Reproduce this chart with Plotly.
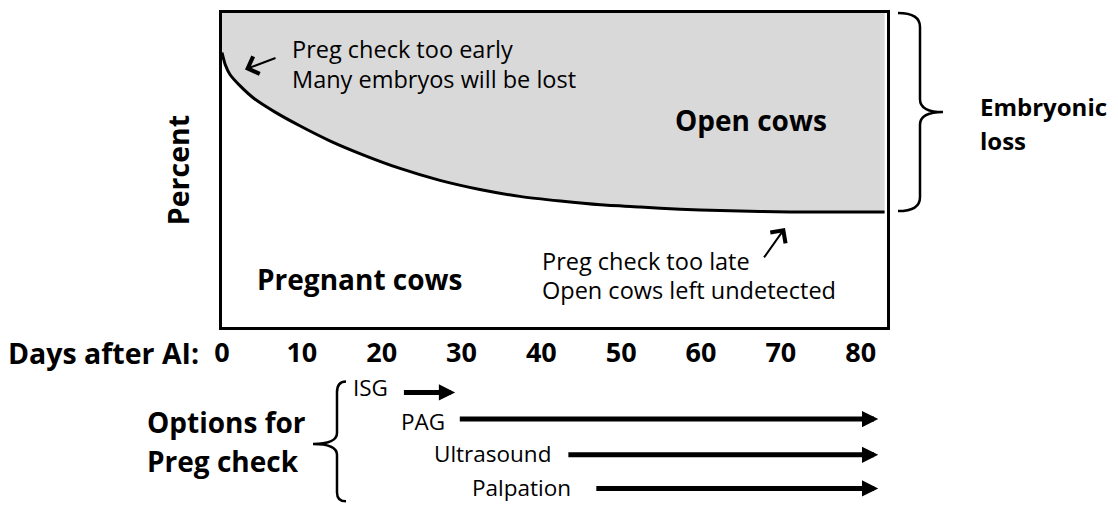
import plotly.graph_objects as go

# ---------------- data ----------------
curve_days = [0, 0.4, 1.0, 2.3, 4.1, 6.6, 9.8, 13.5, 17.9, 22.3, 27.3, 32.3,
              37.3, 42.4, 47.4, 52.4, 57.4, 62.4, 67.4, 71.2, 83.0]
curve_pct = [87.4, 83.6, 80.4, 76.7, 72.6, 68.5, 64.0, 59.3, 54.6, 50.5, 46.7, 43.8,
             41.6, 40.1, 38.9, 38.2, 37.5, 37.1, 36.8, 36.6, 36.6]
top_pct = [100] * len(curve_days)

tick_days = [0, 10, 20, 30, 40, 50, 60, 70, 80]
tick_labels = [str(d) for d in tick_days]

option_names = ["ISG", "PAG", "Ultrasound", "Palpation"]
option_start = [22.6, 29.6, 43.2, 46.7]
option_end = [29.2, 82.2, 82.2, 82.2]

# ---------------- layout helpers ----------------
# the page body has an 8px margin, so the figure is 8px smaller and all
# reference pixel positions are expressed relative to the plot box
OFF = 8
W, H = 1118 - OFF, 505 - OFF
L, R, T, B = 222, 887, 10, 327          # plot box in reference pixels
X_MAX = 83.3

def px(x):
    return (x - L) / (R - L)

def py(y):
    return (B - y) / (B - T)

FONT = "Open Sans"
BIG = 27
SMALL = 23.5
OPT = 22.5

fig = go.Figure()
fig.add_trace(go.Scatter(x=curve_days, y=top_pct, mode="lines",
                         line=dict(width=0, color="rgba(0,0,0,0)"),
                         hoverinfo="skip", showlegend=False))
fig.add_trace(go.Scatter(x=curve_days, y=curve_pct, mode="lines",
                         line=dict(color="black", width=3, shape="spline", smoothing=0.6),
                         fill="tonexty", fillcolor="#d9d9d9",
                         hoverinfo="skip", showlegend=False))

ann = []

def text(x, y, s, size, bold=False, xanchor="center", **kw):
    ann.append(dict(x=x, y=y, xref="paper", yref="paper", text=s, showarrow=False,
                    xanchor=xanchor, yanchor="middle",
                    font=dict(family=FONT, size=size, color="black",
                              weight="bold" if bold else "normal"), **kw))

text(px(6), py(353), "Days after AI:", 28.5, True, "left")
text(px(751), py(118), "Open cows", BIG + 1, True)
text(px(359), py(279), "Pregnant cows", BIG + 1, True)
text(px(290), py(46), "Preg check too early", SMALL, False, "left")
text(px(290), py(77), "Many embryos will be lost", SMALL, False, "left")
text(px(540), py(260), "Preg check too late", SMALL, False, "left")
text(px(540), py(290), "Open cows left undetected", SMALL, False, "left")
text(px(978), py(104), "Embryonic", 24, True, "left")
text(px(978), py(139), "loss", 24, True, "left")
text(px(145), py(423), "Options for", BIG + 1, True, "left")
text(px(145), py(462), "Preg check", BIG + 1, True, "left")

# small pointer arrows
ann.append(dict(x=px(245), y=py(67), xref="paper", yref="paper", text="",
                showarrow=True, ax=32, ay=-12, arrowhead=4, arrowwidth=2,
                arrowsize=1.8, arrowcolor="black"))
ann.append(dict(x=px(785), y=py(227), xref="paper", yref="paper", text="",
                showarrow=True, ax=-22, ay=31, arrowhead=4, arrowwidth=2,
                arrowsize=1.8, arrowcolor="black"))

# options arrows
label_y = [388, 422, 455, 489]
arrow_y = [393, 420, 456, 490]
label_gap = [12, 11, 14, 22]
for i, name in enumerate(option_names):
    ann.append(dict(x=option_start[i], y=py(label_y[i]), xref="x", yref="paper",
                    text=name, showarrow=False, xanchor="right", yanchor="middle",
                    xshift=-label_gap[i],
                    font=dict(family=FONT, size=OPT, color="black")))
    ann.append(dict(x=option_end[i], y=py(arrow_y[i]), xref="x", yref="paper",
                    text="", showarrow=True, axref="x", ax=option_start[i],
                    ayref="pixel", ay=0, arrowhead=2, arrowwidth=5,
                    arrowsize=0.65, arrowcolor="black"))

def path(points_cmds):
    out = []
    for cmd, pts in points_cmds:
        coords = " ".join(f"{px(a):.5f},{py(b):.5f}" for a, b in pts)
        out.append(f"{cmd}{coords}")
    return " ".join(out)

right_brace = path([
    ("M", [(898, 10)]), ("Q", [(920, 10), (920, 24)]), ("L", [(920, 97)]),
    ("Q", [(920, 110), (943, 110)]), ("Q", [(920, 110), (920, 123)]),
    ("L", [(920, 196)]), ("Q", [(920, 210), (898, 210)]),
])
left_brace = path([
    ("M", [(346, 382)]), ("Q", [(337, 382), (337, 393)]), ("L", [(337, 434)]),
    ("Q", [(337, 445), (313, 445)]), ("Q", [(337, 445), (337, 456)]),
    ("L", [(337, 494)]), ("Q", [(337, 503), (346, 503)]),
])
shapes = [
    dict(type="path", path=right_brace, xref="paper", yref="paper",
         line=dict(color="black", width=2.5)),
    dict(type="path", path=left_brace, xref="paper", yref="paper",
         line=dict(color="black", width=2.5)),
]

fig.update_layout(
    width=W, height=H,
    margin=dict(l=L - OFF, r=(1118 - R), t=T - OFF, b=(505 - B), pad=0),
    paper_bgcolor="white", plot_bgcolor="white",
    showlegend=False,
    annotations=ann, shapes=shapes,
    xaxis=dict(range=[0, X_MAX], showline=True, linecolor="black", linewidth=3,
               mirror=True, showgrid=False, zeroline=False,
               tickmode="array", tickvals=tick_days, ticktext=tick_labels,
               ticks="",
               tickfont=dict(family=FONT, size=BIG, color="black", weight="bold"),
               fixedrange=True),
    yaxis=dict(range=[0, 100], showline=True, linecolor="black", linewidth=3,
               mirror=True, showgrid=False, zeroline=False, showticklabels=False,
               ticks="",
               title=dict(text="Percent", standoff=22,
                          font=dict(family=FONT, size=28.5, color="black", weight="bold")),
               fixedrange=True),
)

fig.write_html("out.html")
